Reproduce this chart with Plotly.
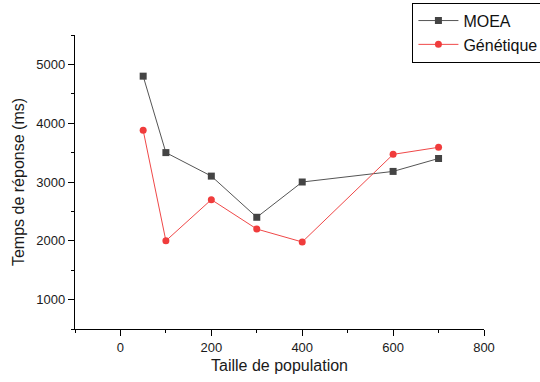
import plotly.graph_objects as go

taille = [50, 100, 200, 300, 400, 600, 700]
moea = [4800, 3500, 3100, 2400, 3000, 3180, 3400]
genetique = [3880, 2000, 2700, 2200, 1980, 3470, 3590]

font_name = "Liberation Sans, Arial, sans-serif"

fig = go.Figure()
fig.add_trace(go.Scatter(
    x=taille, y=moea, name="MOEA", mode="lines+markers",
    line=dict(color="#555555", width=1),
    marker=dict(symbol="square", size=7, color="#444444"),
))
fig.add_trace(go.Scatter(
    x=taille, y=genetique, name="Génétique", mode="lines+markers",
    line=dict(color="#f04848", width=1),
    marker=dict(symbol="circle", size=7, color="#f03c3c"),
))

axis_common = dict(
    showline=True, linecolor="black", linewidth=1.3, mirror=False,
    showgrid=False, zeroline=False, automargin=False,
    ticks="outside", ticklen=6, tickwidth=1, tickcolor="black",
    tickfont=dict(size=13, color="#1a1a1a", family=font_name),
)

fig.update_layout(
    width=540, height=382,
    paper_bgcolor="white", plot_bgcolor="white",
    font=dict(family=font_name, color="#1a1a1a"),
    margin=dict(l=75, r=56, t=35, b=53, autoexpand=False),
    xaxis=dict(
        range=[-100, 800], tick0=0, dtick=200,
        minor=dict(ticks="outside", dtick=100, ticklen=3, tickcolor="black"),
        title=dict(text="Taille de population", font=dict(size=16), standoff=6),
        **axis_common,
    ),
    yaxis=dict(
        range=[500, 5500], tick0=0, dtick=1000,
        minor=dict(ticks="outside", dtick=500, ticklen=3, tickcolor="black"),
        title=dict(text="Temps de réponse (ms)", font=dict(size=16), standoff=7),
        **axis_common,
    ),
    legend=dict(
        x=0.825, y=1.11, xanchor="left", yanchor="top",
        bordercolor="black", borderwidth=1, bgcolor="white",
        font=dict(size=16, color="#111111"),
        tracegroupgap=0, itemwidth=40,
    ),
    showlegend=True,
)

# drop the browser's default body margin so the figure sits at the page corner
fig.write_html("out.html", config={"displayModeBar": False},
               post_script="document.body.style.margin = '0';")
